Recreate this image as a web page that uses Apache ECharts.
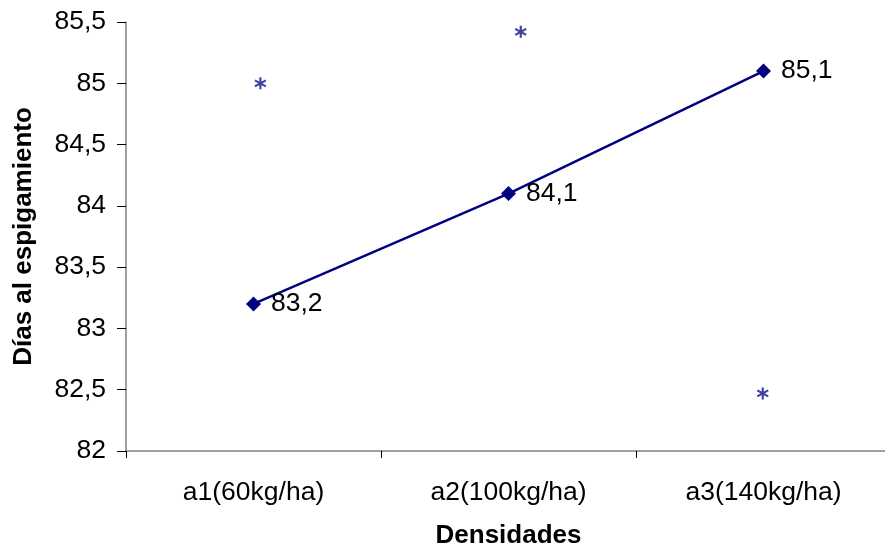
<!DOCTYPE html>
<html>
<head>
<meta charset="utf-8">
<script src="https://cdn.jsdelivr.net/npm/echarts@6/dist/echarts.min.js"></script>
<style>html,body{margin:0;padding:0;background:#fff;}#c{width:885px;height:548px;}</style>
</head>
<body>
<div id="c"></div>
<script>
const categories = ['a1(60kg/ha)', 'a2(100kg/ha)', 'a3(140kg/ha)'];
const diasValues = [83.2, 84.1, 85.1];
// significance marks (asterisks): position along categories (0..3) and value
const markX = [0.527, 1.548, 2.497];
const markY = [85.0, 85.42, 82.47];
const yTicks = { min: 82, max: 85.5, interval: 0.5 };

const fmt = v => String(v).replace('.', ',');
const asteriskPath = 'path://M-1.7,-10L1.7,-10L1.7,10L-1.7,10Z' +
  'M-7.8,-6.5L9.5,3.5L7.8,6.5L-9.5,-3.5Z' +
  'M9.5,-3.5L-7.8,6.5L-9.5,3.5L7.8,-6.5Z';

const chart = echarts.init(document.getElementById('c'));
chart.setOption({
  animation: false,
  backgroundColor: '#ffffff',
  grid: { left: 126, width: 765, top: 22, height: 429, containLabel: false, outerBoundsMode: 'none' },
  xAxis: [{
    type: 'category',
    data: categories,
    boundaryGap: true,
    name: 'Densidades',
    nameLocation: 'middle',
    nameGap: 72,
    nameTextStyle: { fontFamily: 'Liberation Sans', fontSize: 26, fontWeight: 'bold', color: '#000' },
    axisLine: { lineStyle: { color: '#808080', width: 1.5 } },
    axisTick: { show: true, length: 7, lineStyle: { color: '#000' } },
    axisLabel: { margin: 28, fontFamily: 'Liberation Sans', fontSize: 26.5, color: '#000' },
    splitLine: { show: false }
  }, {
    type: 'value',
    min: 0, max: 3,
    show: false
  }],
  yAxis: {
    type: 'value',
    min: yTicks.min, max: yTicks.max, interval: yTicks.interval,
    name: 'Días al espigamiento',
    nameLocation: 'middle',
    nameGap: 89,
    nameTextStyle: { fontFamily: 'Liberation Sans', fontSize: 26, fontWeight: 'bold', color: '#000' },
    axisLine: { show: true, lineStyle: { color: '#808080', width: 1.5 } },
    axisTick: { show: true, length: 9, lineStyle: { color: '#000' } },
    axisLabel: { margin: 20, fontFamily: 'Liberation Sans', fontSize: 26.5, color: '#000', formatter: v => fmt(v) },
    splitLine: { show: false }
  },
  series: [{
    type: 'line',
    data: diasValues,
    xAxisIndex: 0,
    symbol: 'diamond',
    symbolSize: 15,
    itemStyle: { color: '#000080' },
    lineStyle: { color: '#000080', width: 2.5 },
    label: {
      show: true, position: 'right', distance: 10,
      fontFamily: 'Liberation Sans', fontSize: 26.5, color: '#000',
      formatter: p => fmt(p.value)
    }
  }, {
    type: 'scatter',
    xAxisIndex: 1,
    data: markX.map((x, i) => [x, markY[i]]),
    symbol: asteriskPath,
    symbolSize: 12,
    itemStyle: { color: '#10108a' }
  }]
});
</script>
</body>
</html>
